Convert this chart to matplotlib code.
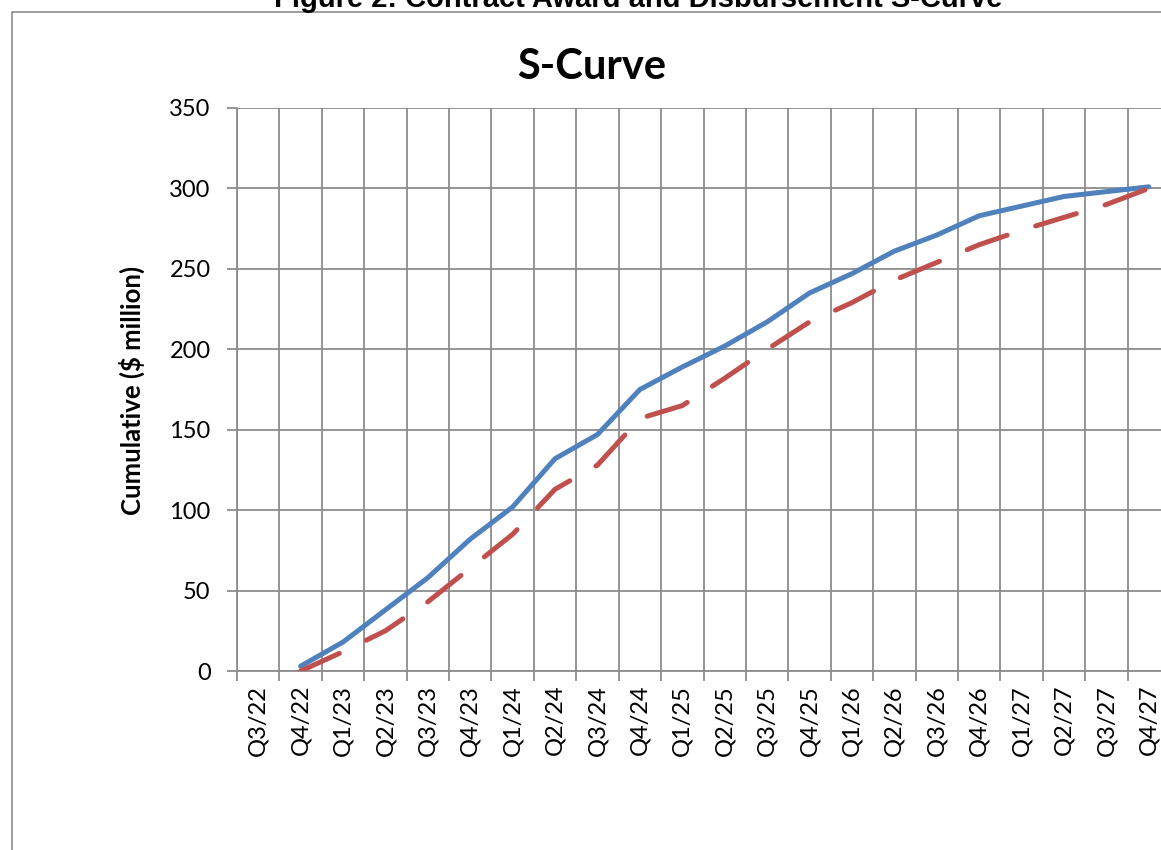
import numpy as np
import matplotlib.pyplot as plt
from matplotlib.patches import Rectangle

quarters = ["Q3/22", "Q4/22", "Q1/23", "Q2/23", "Q3/23", "Q4/23", "Q1/24", "Q2/24",
            "Q3/24", "Q4/24", "Q1/25", "Q2/25", "Q3/25", "Q4/25", "Q1/26", "Q2/26",
            "Q3/26", "Q4/26", "Q1/27", "Q2/27", "Q3/27", "Q4/27"]

# cumulative values ($ million); Q3/22 has no value
contract_award = [np.nan, 3, 18, 38, 58, 82, 102, 132, 147, 175, 189, 202, 217, 235,
                  247, 261, 271, 283, 289, 295, 298, 301]
disbursement = [np.nan, 0, 12, 25, 43, 64, 85, 113, 128, 157, 165, 182, 200, 217,
                229, 243, 254, 265, 274, 282, 290, 300]

y_ticks = [0, 50, 100, 150, 200, 250, 300, 350]

W, H = 1161, 850
fig = plt.figure(figsize=(W / 100, H / 100), dpi=100)

# outer chart border (runs off the right and bottom edges)
fig.patches.append(Rectangle((12 / W, -0.1), 1.2, (H - 12) / H + 0.1,
                             transform=fig.transFigure, fill=False,
                             edgecolor="#8c8c8c", linewidth=1.2))

fig.text(638 / W, 1 - 7 / H, "Figure 2: Contract Award and Disbursement S-Curve",
         ha="center", va="baseline", fontsize=21, fontweight="bold",
         family=["Liberation Sans", "DejaVu Sans"])

fig.text(592 / W, 1 - 67 / H, "S-Curve", ha="center", va="center",
         fontsize=30, fontweight="bold", family=["Lato", "DejaVu Sans"])

left, right, top, bottom = 237, 1170, 108, 671
ax = fig.add_axes([left / W, 1 - bottom / H, (right - left) / W, (bottom - top) / H])

x = np.arange(len(quarters))
ax.plot(x, contract_award, color="#4F81BD", linewidth=3.6, solid_capstyle="round",
        solid_joinstyle="round", zorder=3)
ax.plot(x, disbursement, color="#C0504D", linewidth=3.6, dashes=(8.5, 6),
        dash_capstyle="round", dash_joinstyle="round", zorder=3)

ax.set_xlim(-0.5, len(quarters) - 0.5)
ax.set_ylim(0, 350)

grid_color = "#8c8c8c"
ax.set_yticks(y_ticks)
ax.set_yticklabels([str(v) for v in y_ticks])
ax.set_xticks(x)
ax.set_xticklabels(quarters, rotation=90)
ax.set_xticks(np.arange(-0.5, len(quarters)), minor=True)

for v in y_ticks:
    ax.axhline(v, color=grid_color, linewidth=1.3, zorder=1)
for b in np.arange(-0.5, len(quarters)):
    ax.axvline(b, color=grid_color, linewidth=1.3, zorder=1)

ax.tick_params(axis="x", which="major", length=0, pad=10, labelsize=17)
ax.tick_params(axis="x", which="minor", length=7, width=1.3, color=grid_color)
ax.tick_params(axis="y", length=7, width=1.3, color=grid_color, pad=12, labelsize=17)
for lbl in ax.get_xticklabels() + ax.get_yticklabels():
    lbl.set_family(["Lato", "DejaVu Sans"])

for side in ["top", "right"]:
    ax.spines[side].set_visible(False)
for side in ["left", "bottom"]:
    ax.spines[side].set_color(grid_color)
    ax.spines[side].set_linewidth(1.3)

fig.text(132 / W, 1 - 390 / H, "Cumulative ($ million)", rotation=90, ha="center",
         va="center", fontsize=18.5, fontweight="bold", family=["Lato", "DejaVu Sans"])

fig.savefig("out.png", dpi=100)
